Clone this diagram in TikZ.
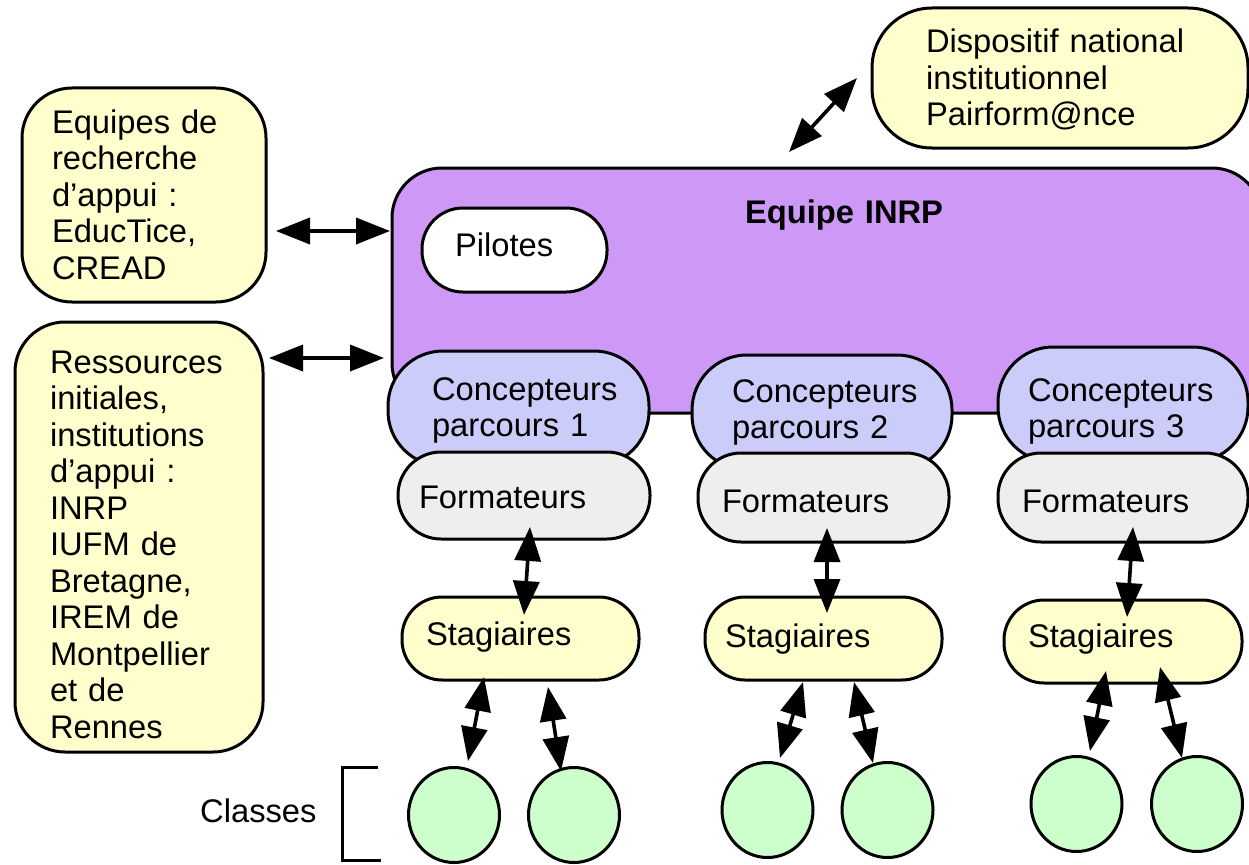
\documentclass[tikz,border=0pt]{standalone}
\usepackage{fontspec}
\setmainfont{Liberation Sans}
\usetikzlibrary{arrows.meta,shapes.geometric}
\newcommand\dfont{\fontsize{32.7}{36.5}\selectfont}
\definecolor{cyel}{RGB}{255,255,206}
\definecolor{cpur}{RGB}{206,152,246}
\definecolor{clav}{RGB}{204,204,250}
\definecolor{cgry}{RGB}{238,238,238}
\definecolor{cgrn}{RGB}{204,255,204}
\tikzset{
  box/.style={draw, line width=3pt, inner ysep=0pt, align=left, text height=40pt, font=\dfont},
  cls/.style={draw, ellipse, line width=3pt, fill=cgrn, inner sep=0pt, minimum width=91pt, minimum height=95pt},
  dbl/.style={line width=3.6pt, {Triangle[length=34pt,width=26pt]}-{Triangle[length=34pt,width=26pt]}},
  lbl/.style={font=\dfont, inner sep=0pt, anchor=base west}
}
\begin{document}
\begin{tikzpicture}[x=1pt,y=-1pt]
\useasboundingbox (0,0) rectangle (1249,864);

% outer boxes
\node[box, fill=cyel, rounded corners=50pt, minimum width=244pt, minimum height=214pt, inner xsep=30pt, text width=184pt, text depth=164pt] (eq) at (144,195)
  {Equipes~de\\recherche\\d’appui~:\\EducTice,\\CREAD};
\node[box, fill=cyel, rounded corners=50pt, minimum width=248pt, minimum height=430pt, inner xsep=35pt, text width=178pt, text depth=368pt] (res) at (139,537)
  {Ressources\\initiales,\\institutions\\d’appui~:\\INRP\\IUFM~de\\Bretagne,\\IREM~de\\Montpellier\\et~de\\Rennes};
\node[box, fill=cyel, rounded corners=60pt, minimum width=376pt, minimum height=140pt, inner xsep=54pt, text width=268pt, text depth=90pt] (disp) at (1060,78)
  {Dispositif~national\\institutionnel\\Pairform@nce};

% Equipe INRP
\node[box, fill=cpur, rounded corners=50pt, minimum width=870pt, minimum height=245pt, inner xsep=353pt, text width=164pt, text depth=175pt, font=\dfont\bfseries] (inrp) at (827,290.5)
  {Equipe~INRP};
\node[box, fill=white, rounded corners=41pt, minimum width=185pt, minimum height=84pt, inner xsep=33pt, text width=119pt, text depth=28pt] (pil) at (514.5,250)
  {Pilotes};

% concepteurs
\node[box, fill=clav, rounded corners=55pt, minimum width=261pt, minimum height=115pt, inner xsep=44pt, text width=173pt, text depth=57pt] (c1) at (518.5,408.5)
  {Concepteurs\\parcours~1};
\node[box, fill=clav, rounded corners=55pt, minimum width=260pt, minimum height=115pt, inner xsep=40pt, text width=180pt, text depth=61pt] (c2) at (822,412.5)
  {Concepteurs\\parcours~2};
\node[box, fill=clav, rounded corners=55pt, minimum width=250pt, minimum height=115pt, inner xsep=30pt, text width=190pt, text depth=47pt] (c3) at (1123,404.5)
  {Concepteurs\\parcours~3};

% formateurs
\node[box, fill=cgry, rounded corners=43pt, minimum width=252pt, minimum height=87pt, inner xsep=21pt, text width=210pt, text depth=15pt] (f1) at (524,495.5) {Formateurs};
\node[box, fill=cgry, rounded corners=43pt, minimum width=251pt, minimum height=89pt, inner xsep=24pt, text width=203pt, text depth=11pt] (f2) at (823.5,497.5) {Formateurs};
\node[box, fill=cgry, rounded corners=43pt, minimum width=250pt, minimum height=89pt, inner xsep=24pt, text width=202pt, text depth=11pt] (f3) at (1123,497.5) {Formateurs};

% stagiaires
\node[box, fill=cyel, rounded corners=40pt, minimum width=237pt, minimum height=83pt, inner xsep=24pt, text width=189pt, text depth=27pt] (s1) at (520.5,638.5) {Stagiaires};
\node[box, fill=cyel, rounded corners=40pt, minimum width=237pt, minimum height=83pt, inner xsep=20pt, text width=197pt, text depth=23pt] (s2) at (823.5,638.5) {Stagiaires};
\node[box, fill=cyel, rounded corners=40pt, minimum width=238pt, minimum height=83pt, inner xsep=24pt, text width=190pt, text depth=29pt] (s3) at (1123,641.5) {Stagiaires};

% classes
\node[cls] (k1a) at (454,815) {};
\node[cls] (k1b) at (574,815) {};
\node[cls] (k2a) at (767.5,810) {};
\node[cls] (k2b) at (887.5,810) {};
\node[cls] (k3a) at (1076.5,804) {};
\node[cls] (k3b) at (1197,804) {};
\node[lbl] (classes) at (200,822) {Classes};
\draw[line width=3pt] (378,767) -- (342,767) -- (342,860) -- (381,860);

% arrow end points
\coordinate (aeq1) at (276,231);  \coordinate (aeq2) at (390,231);
\coordinate (ares1) at (269,358); \coordinate (ares2) at (384,358);
\coordinate (adi1) at (789,152);  \coordinate (adi2) at (857,78);
\coordinate (fs1a) at (530,527);  \coordinate (fs1b) at (524,615);
\coordinate (fs2a) at (827,528);  \coordinate (fs2b) at (827,613);
\coordinate (fs3a) at (1133,527); \coordinate (fs3b) at (1127,617);
\coordinate (sk1a) at (484,677);  \coordinate (sk1b) at (468,761);
\coordinate (sk1c) at (548,687);  \coordinate (sk1d) at (561,771);
\coordinate (sk2a) at (803,682);  \coordinate (sk2b) at (780,758);
\coordinate (sk2c) at (854,682);  \coordinate (sk2d) at (873,763);
\coordinate (sk3a) at (1106,671); \coordinate (sk3b) at (1090,751);
\coordinate (sk3c) at (1160,667); \coordinate (sk3d) at (1182,758);

\draw[dbl] (aeq1) -- (aeq2);
\draw[dbl] (ares1) -- (ares2);
\draw[dbl] (adi1) -- (adi2);
\draw[dbl] (fs1a) -- (fs1b);
\draw[dbl] (fs2a) -- (fs2b);
\draw[dbl] (fs3a) -- (fs3b);
\draw[dbl] (sk1a) -- (sk1b);
\draw[dbl] (sk1c) -- (sk1d);
\draw[dbl] (sk2a) -- (sk2b);
\draw[dbl] (sk2c) -- (sk2d);
\draw[dbl] (sk3a) -- (sk3b);
\draw[dbl] (sk3c) -- (sk3d);
\end{tikzpicture}
\end{document}
